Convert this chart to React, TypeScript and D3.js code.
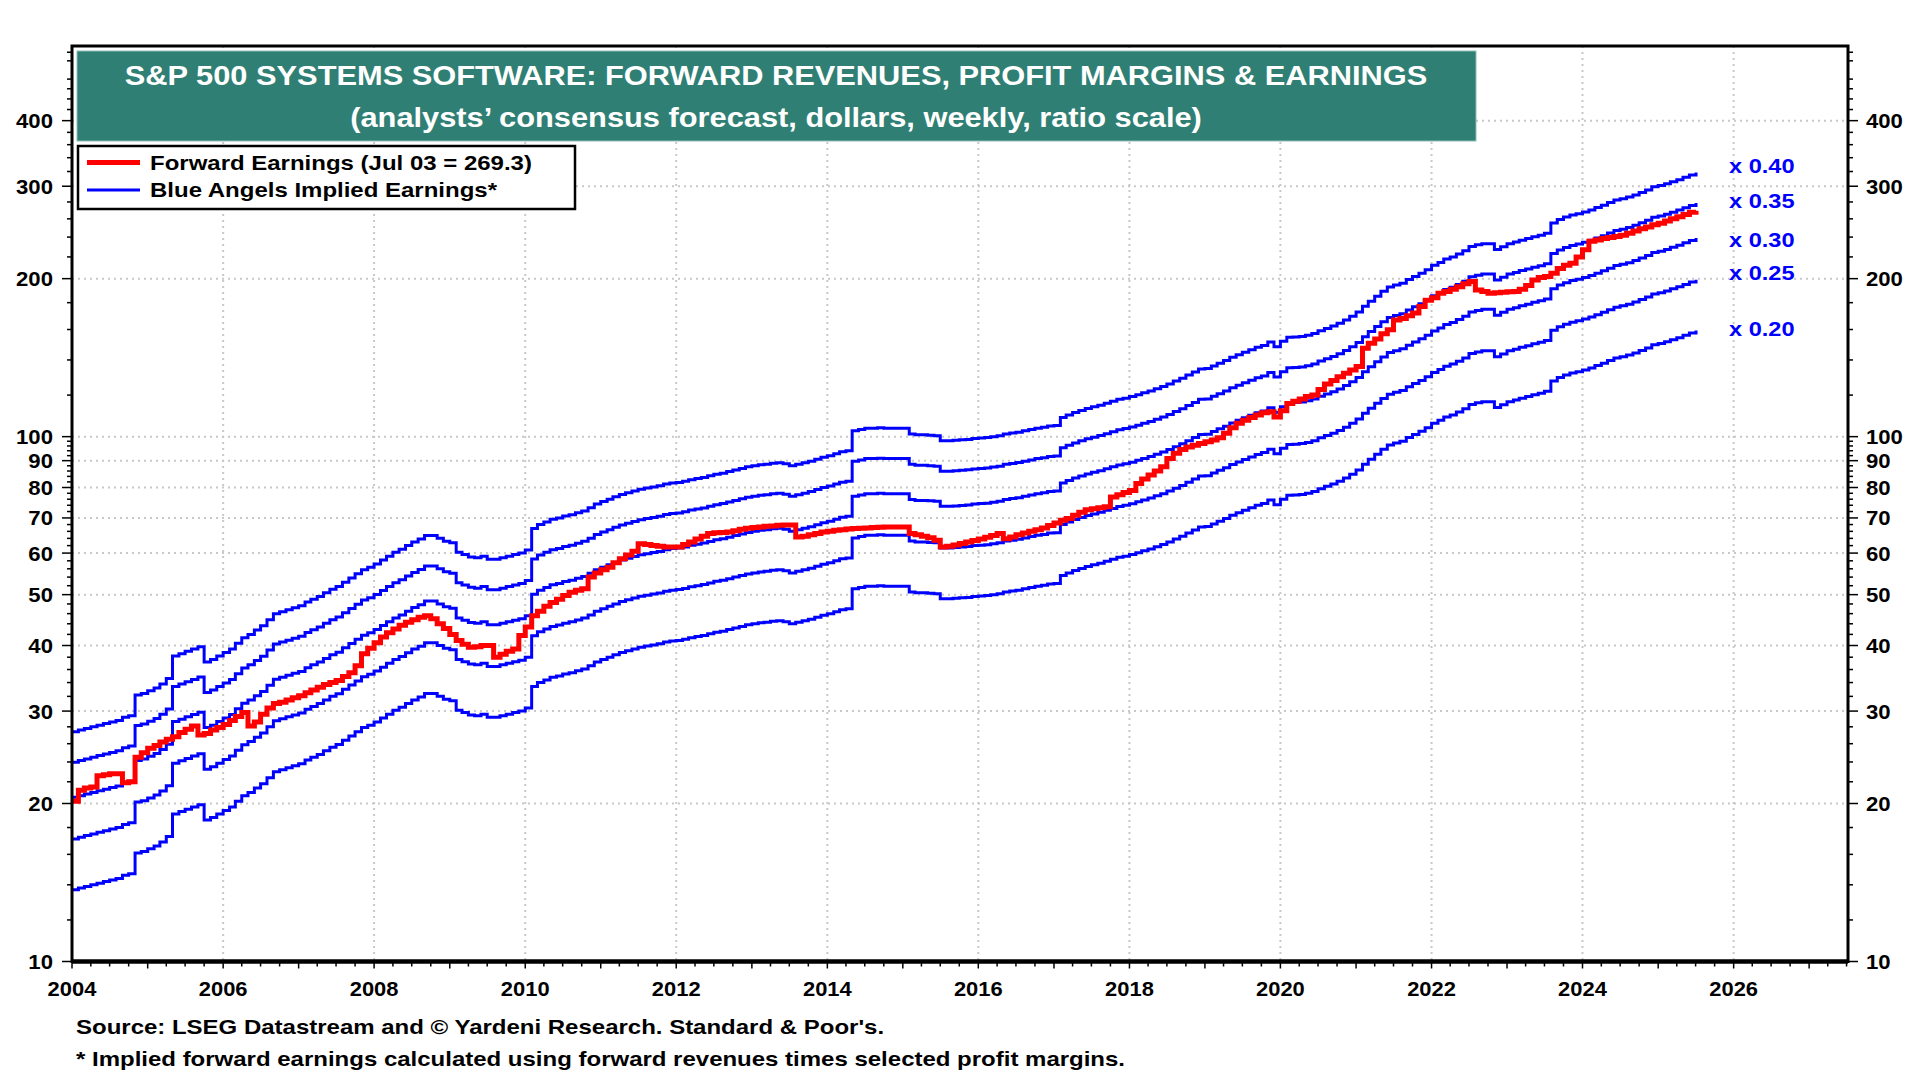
import React, { useEffect } from "react";
import * as d3 from "d3";

// ---------- DATA (monthly readings, Jan 2004 .. Jul 2025) ----------
const START_YEAR = 2004;
const LAST_DATE = new Date(2025, 6, 3);

// Forward revenues (dollars per share, ratio scale reading)
const forwardRevenues: number[] = [
  // 2004
  68.5, 69, 69.5, 70, 70.5, 71, 71.5, 72, 73, 73.5, 80.5, 81,
  // 2005
  82, 83, 84.5, 86.5, 95.5, 96.5, 97.5, 98.5, 99.5, 93, 94, 95.5,
  // 2006
  97, 98.5, 101, 103.5, 105, 107, 109, 112, 115, 116, 117, 118,
  // 2007
  119, 121, 122.5, 124, 126, 128, 129.5, 132, 134.5, 137, 139.5, 141,
  // 2008
  143, 145.5, 148, 150.5, 152.5, 155, 157.5, 159.5, 162, 162, 160, 158,
  // 2009
  157, 150.5, 149, 147.5, 147, 148, 146, 146, 147, 148, 149, 150,
  // 2010
  152, 167, 170, 172, 174, 175, 176.5, 177.5, 179, 180.5, 183, 186,
  // 2011
  188, 190, 192, 194, 195.5, 197, 198.5, 199.5, 200.5, 201.5, 203, 204,
  // 2012
  204.5, 205.5, 207, 208, 209, 210.5, 212, 213, 214.5, 216, 217.5, 219,
  // 2013
  220, 221, 221.5, 222.5, 223, 222, 220, 221.5, 223, 224.5, 226.5, 228.5,
  // 2014
  230, 232, 234, 235, 256.5, 258, 259.5, 259.5, 260, 259.5, 259.5, 259.5,
  // 2015
  259.5, 253, 252, 252, 251.5, 251, 245.5, 245.5, 246, 246.5, 247, 248,
  // 2016
  248.5, 249, 250, 251, 253, 254, 255, 256.5, 258, 259.5, 260.5, 262,
  // 2017
  262.5, 272, 275, 278, 280.5, 283, 285, 287, 289.5, 292, 294.5, 296,
  // 2018
  298, 300.5, 303, 305.5, 308.5, 311.5, 315, 319, 323, 327.5, 332, 336.5,
  // 2019
  337, 341, 345, 349, 354, 358, 362, 366, 370, 373, 378.5, 371,
  // 2020
  380, 386.5, 387, 388, 390, 393, 398, 402, 406, 411, 417, 424,
  // 2021
  432, 443, 453, 463, 473, 482, 486, 490, 498, 505, 512, 520,
  // 2022
  530, 537, 545, 550, 557, 565, 576, 580, 583, 583, 568, 575,
  // 2023
  583, 587, 592, 596, 601, 605, 610, 638, 648, 655, 661, 665,
  // 2024
  670, 676, 683, 690, 698, 706, 710, 715, 722, 730, 738, 748,
  // 2025
  752, 758, 765, 772, 780, 788, 796.5,
];

// Forward earnings (red line)
const forwardEarnings: number[] = [
  // 2004
  20.2, 21.2, 21.4, 21.5, 22.6, 22.7, 22.8, 22.8, 21.9, 22.0, 24.5, 25.0,
  // 2005
  25.5, 25.8, 26.2, 26.5, 26.8, 27.3, 27.7, 28.1, 27.0, 27.2, 27.6, 27.9,
  // 2006
  28.3, 28.8, 29.3, 29.8, 28.1, 28.6, 29.6, 30.4, 31.0, 31.2, 31.5, 31.8,
  // 2007
  32.1, 32.5, 32.9, 33.3, 33.7, 34.0, 34.3, 34.9, 35.5, 36.6, 38.6, 39.5,
  // 2008
  40.5, 41.5, 42.3, 43.0, 43.7, 44.3, 44.8, 45.3, 45.6, 45.0, 44.0, 43.1,
  // 2009
  42.0, 40.9, 40.2, 39.7, 39.8, 40.0, 40.0, 38.0, 38.5, 39.0, 39.4, 41.8,
  // 2010
  43.4, 45.6, 46.5, 47.5, 48.3, 49.0, 49.8, 50.5, 51.0, 51.3, 54.0, 55.0,
  // 2011
  55.8, 56.4, 57.5, 58.5, 59.5, 60.5, 62.5, 62.3, 62.0, 61.8, 61.6, 61.6,
  // 2012
  61.6, 62.3, 63.0, 63.8, 64.6, 65.4, 65.6, 65.7, 65.8, 66.2, 66.6, 66.9,
  // 2013
  67.1, 67.3, 67.5, 67.6, 67.8, 67.9, 67.9, 64.4, 64.6, 65.0, 65.4, 65.8,
  // 2014
  66.0, 66.3, 66.5, 66.7, 66.8, 66.9, 67.0, 67.1, 67.2, 67.3, 67.3, 67.3,
  // 2015
  67.3, 65.4, 65.0, 64.6, 64.2, 63.5, 61.6, 61.8, 62.2, 62.6, 63.0, 63.4,
  // 2016
  63.8, 64.3, 64.8, 65.4, 63.9, 64.4, 65.0, 65.5, 66.0, 66.5, 67.0, 67.7,
  // 2017
  68.5, 69.3, 69.8, 70.8, 71.8, 72.6, 72.9, 73.2, 73.5, 76.7, 77.5, 78.3,
  // 2018
  79.0, 81.4, 83.0, 84.5, 86.0, 87.6, 90.9, 93.0, 94.5, 95.6, 96.3, 97.0,
  // 2019
  97.8, 98.5, 99.5, 101.5, 104, 106, 107.5, 108.8, 110, 111, 111.5, 109,
  // 2020
  112, 115.7, 116.8, 118, 119.3, 120.0, 123, 126, 128, 130, 132, 134,
  // 2021
  136, 147.3, 150.7, 153.5, 157, 159.8, 166.9, 168, 170, 172, 177, 182,
  // 2022
  184, 187.6, 189, 191, 193, 195.5, 197.6, 190.2, 189, 187.6, 188, 188.5,
  // 2023
  188.9, 189, 191, 194, 198.8, 201, 202, 204.8, 209, 212, 214, 220,
  // 2024
  227, 235.6, 237, 238.5, 239.5, 240.6, 242, 244, 246.5, 249, 251, 253.4,
  // 2025
  255, 257.5, 260, 262.5, 265, 267.5, 269.3,
];

const profitMargins: number[] = [0.4, 0.35, 0.3, 0.25, 0.2];
const yMajorTicks: number[] = [10, 20, 30, 40, 50, 60, 70, 80, 90, 100, 200, 300, 400];
const xLabelYears: number[] = [2004, 2006, 2008, 2010, 2012, 2014, 2016, 2018, 2020, 2022, 2024, 2026];

const TITLE_1 = "S&P 500 SYSTEMS SOFTWARE: FORWARD REVENUES, PROFIT MARGINS & EARNINGS";
const TITLE_2 = "(analysts\u2019 consensus forecast, dollars, weekly, ratio scale)";
const LEGEND_1 = "Forward Earnings (Jul 03 = 269.3)";
const LEGEND_2 = "Blue Angels Implied Earnings*";
const SOURCE_1 = "Source: LSEG Datastream and \u00A9 Yardeni Research. Standard & Poor's.";
const SOURCE_2 = "* Implied forward earnings calculated using forward revenues times selected profit margins.";

// ---------- LAYOUT ----------
const W = 1920;
const H = 1080;
const L = 72;
const R = 1848;
const T = 46;
const B = 961.5;
const FONT = "'Liberation Sans', Arial, Helvetica, sans-serif";
const BLUE = "#0000ff";
const RED = "#ff0000";
const TEAL = "#307f74";
// vertical nudges of the margin labels next to the line ends
const marginLabelDy: number[] = [0.5, 5, 9, 0.5, 5];

const dateAt = (i: number, n: number) =>
  i === n - 1 ? LAST_DATE : new Date(START_YEAR, i, 1);

type STextProps = {
  x: number;
  y: number;
  size: number;
  sx?: number;
  anchor?: "start" | "middle" | "end";
  fill?: string;
  children: React.ReactNode;
};

const SText = ({ x, y, size, sx = 1, anchor = "start", fill = "#000", children }: STextProps) => (
  <text
    transform={`translate(${x},${y}) scale(${sx},1)`}
    textAnchor={anchor}
    fontSize={size}
    fontFamily={FONT}
    fontWeight={700}
    fill={fill}
  >
    {children}
  </text>
);

export default function App() {
  useEffect(() => {
    document.body.style.margin = "0";
  }, []);

  const x = d3
    .scaleTime()
    .domain([new Date(2004, 0, 1), new Date(2027, 6, 8)])
    .range([L, R]);
  const y = d3.scaleLog().domain([10, 555]).range([B, T]);

  const n = forwardRevenues.length;
  const line = d3
    .line<[Date, number]>()
    .x((d) => x(d[0]))
    .y((d) => y(d[1]))
    .curve(d3.curveStepAfter);

  const earningsPts: [Date, number][] = forwardEarnings.map((v, i) => [dateAt(i, forwardEarnings.length), v]);
  const bluePaths = profitMargins.map((m) => {
    const pts: [Date, number][] = forwardRevenues.map((v, i) => [dateAt(i, n), v * m]);
    return { m, d: line(pts) || "", endY: y(forwardRevenues[n - 1] * m) };
  });

  const minorTicks: number[] = [];
  for (let v = 12; v < 100; v += 2) if (v % 10 !== 0) minorTicks.push(v);
  for (let v = 120; v <= 540; v += 20) if (v % 100 !== 0) minorTicks.push(v);

  const quarterTicks = d3.timeMonth.every(3)!.range(new Date(2004, 0, 1), new Date(2027, 6, 9));
  const gridYears = xLabelYears.filter((yr) => yr > 2004);
  const endX = x(LAST_DATE);

  return (
    <div style={{ position: "absolute", left: 0, top: 0 }}>
      <svg width={W} height={H} viewBox={`0 0 ${W} ${H}`} style={{ display: "block", background: "#fff" }}>
        <defs>
          <clipPath id="plotClip">
            <rect x={L} y={T} width={R - L} height={B - T} />
          </clipPath>
        </defs>
        <rect x={0} y={0} width={W} height={H} fill="#fff" />

        {/* grid */}
        <g stroke="#c8c8c8" strokeWidth={2} strokeDasharray="2,4">
          {yMajorTicks
            .filter((v) => v > 10)
            .map((v) => (
              <line key={"gy" + v} x1={L} x2={R} y1={y(v)} y2={y(v)} />
            ))}
          {gridYears.map((yr) => (
            <line key={"gx" + yr} x1={x(new Date(yr, 0, 1))} x2={x(new Date(yr, 0, 1))} y1={T} y2={B} />
          ))}
        </g>

        {/* series */}
        <g clipPath="url(#plotClip)" fill="none" strokeLinejoin="miter">
          {bluePaths.map((p) => (
            <path key={"b" + p.m} d={p.d} stroke={BLUE} strokeWidth={3} />
          ))}
          <path d={line(earningsPts) || ""} stroke={RED} strokeWidth={5} />
        </g>

        {/* margin labels */}
        {bluePaths.map((p, i) => (
          <SText key={"lbl" + p.m} x={endX + 33} y={p.endY + marginLabelDy[i]} size={20} sx={1.18} fill={BLUE}>
            {"x " + p.m.toFixed(2)}
          </SText>
        ))}

        {/* title */}
        <rect x={77} y={51} width={1399} height={90} fill={TEAL} stroke="#8fbfb6" strokeWidth={1} />
        <SText x={776} y={85} size={28} sx={1.1} anchor="middle" fill="#fff">
          {TITLE_1}
        </SText>
        <SText x={776} y={127} size={28} sx={1.1} anchor="middle" fill="#fff">
          {TITLE_2}
        </SText>

        {/* legend */}
        <rect x={78} y={146} width={497} height={63} fill="#fff" stroke="#000" strokeWidth={2.5} />
        <line x1={87} x2={140} y1={162.5} y2={162.5} stroke={RED} strokeWidth={5} />
        <line x1={87} x2={140} y1={190} y2={190} stroke={BLUE} strokeWidth={3} />
        <SText x={150} y={169.5} size={20} sx={1.2}>
          {LEGEND_1}
        </SText>
        <SText x={150} y={197} size={20} sx={1.2}>
          {LEGEND_2}
        </SText>

        {/* frame */}
        <rect x={L} y={T} width={R - L} height={B - T} fill="none" stroke="#000" strokeWidth={3} />
        <line x1={L} x2={R} y1={B} y2={B} stroke="#000" strokeWidth={4.5} />

        {/* ticks */}
        <g stroke="#000" strokeWidth={1.5}>
          {yMajorTicks.map((v) => (
            <g key={"ym" + v}>
              <line x1={L - 10} x2={L} y1={y(v)} y2={y(v)} />
              <line x1={R} x2={R + 10} y1={y(v)} y2={y(v)} />
            </g>
          ))}
          {minorTicks.map((v) => (
            <g key={"yn" + v}>
              <line x1={L - 5} x2={L} y1={y(v)} y2={y(v)} />
              <line x1={R} x2={R + 5} y1={y(v)} y2={y(v)} />
            </g>
          ))}
          {quarterTicks.map((d, i) => (
            <line key={"xq" + i} x1={x(d)} x2={x(d)} y1={B} y2={B + (d.getMonth() === 0 ? 7 : 5)} />
          ))}
        </g>

        {/* tick labels */}
        {yMajorTicks.map((v) => (
          <g key={"yl" + v}>
            <SText x={L - 19} y={y(v) + 7.5} size={20.5} sx={1.08} anchor="end">
              {v}
            </SText>
            <SText x={R + 18} y={y(v) + 7.5} size={20.5} sx={1.08} anchor="start">
              {v}
            </SText>
          </g>
        ))}
        {xLabelYears.map((yr) => (
          <SText key={"xl" + yr} x={x(new Date(yr, 0, 1))} y={996} size={20.5} sx={1.07} anchor="middle">
            {yr}
          </SText>
        ))}

        {/* footer */}
        <SText x={76} y={1034} size={20} sx={1.2}>
          {SOURCE_1}
        </SText>
        <SText x={76} y={1066} size={20} sx={1.2}>
          {SOURCE_2}
        </SText>
      </svg>
    </div>
  );
}
